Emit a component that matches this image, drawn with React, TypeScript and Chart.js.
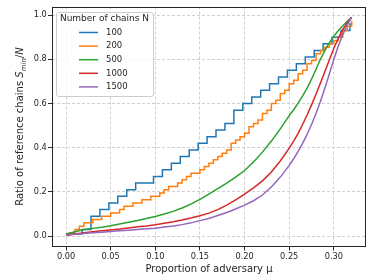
import React, { useEffect, useRef } from "react";
import { Chart, registerables } from "chart.js";

Chart.register(...registerables);

// ---- data ----
const seriesLabels = ["100", "200", "500", "1000", "1500"];
const seriesColors = ["#1f77b4", "#ff7f0e", "#2ca02c", "#d62728", "#9467bd"];

// N = 100 (stepped)
const blueMu = [0, 0.018, 0.028, 0.038, 0.048, 0.058, 0.068, 0.078, 0.098, 0.108, 0.118, 0.128, 0.138, 0.148, 0.158, 0.168, 0.178, 0.188, 0.198, 0.208, 0.218, 0.228, 0.238, 0.248, 0.258, 0.268, 0.278, 0.288, 0.298, 0.308, 0.318, 0.32];
const blueVal = [0.01, 0.03, 0.09, 0.12, 0.15, 0.18, 0.21, 0.24, 0.27, 0.30, 0.33, 0.36, 0.39, 0.42, 0.45, 0.48, 0.51, 0.57, 0.60, 0.63, 0.66, 0.69, 0.72, 0.75, 0.78, 0.81, 0.84, 0.87, 0.90, 0.93, 0.96, 0.96];

// N = 200 (stepped)
const orangeMu = [0, 0.005, 0.01, 0.015, 0.02, 0.03, 0.04, 0.05, 0.06, 0.065, 0.075, 0.085, 0.095, 0.105, 0.11, 0.115, 0.125, 0.13, 0.135, 0.14, 0.15, 0.155, 0.16, 0.165, 0.17, 0.175, 0.18, 0.185, 0.19, 0.195, 0.2, 0.205, 0.21, 0.215, 0.22, 0.225, 0.23, 0.235, 0.24, 0.245, 0.25, 0.255, 0.26, 0.265, 0.27, 0.275, 0.28, 0.285, 0.29, 0.295, 0.3, 0.305, 0.31, 0.315, 0.32];
const orangeVal = [0.005, 0.015, 0.03, 0.045, 0.06, 0.075, 0.09, 0.105, 0.12, 0.135, 0.15, 0.165, 0.18, 0.195, 0.21, 0.225, 0.24, 0.255, 0.27, 0.285, 0.3, 0.315, 0.33, 0.345, 0.36, 0.375, 0.39, 0.42, 0.435, 0.45, 0.465, 0.495, 0.51, 0.525, 0.555, 0.57, 0.6, 0.615, 0.645, 0.66, 0.69, 0.705, 0.735, 0.75, 0.78, 0.795, 0.825, 0.84, 0.855, 0.87, 0.885, 0.9, 0.93, 0.95, 0.975];

// N = 500, 1000, 1500 (near-smooth)
const smoothMu = [0, 0.01, 0.02, 0.03, 0.04, 0.05, 0.06, 0.07, 0.08, 0.09, 0.1, 0.11, 0.12, 0.13, 0.14, 0.15, 0.16, 0.17, 0.18, 0.19, 0.2, 0.21, 0.22, 0.23, 0.24, 0.25, 0.255, 0.26, 0.265, 0.27, 0.275, 0.28, 0.285, 0.29, 0.295, 0.3, 0.305, 0.31, 0.315, 0.32];
const greenVal = [0.01, 0.02, 0.03, 0.035, 0.04, 0.047, 0.055, 0.063, 0.071, 0.08, 0.089, 0.1, 0.112, 0.127, 0.145, 0.166, 0.19, 0.215, 0.24, 0.267, 0.297, 0.335, 0.38, 0.43, 0.485, 0.545, 0.572, 0.602, 0.635, 0.67, 0.71, 0.755, 0.8, 0.84, 0.875, 0.905, 0.93, 0.952, 0.972, 0.99];
const redVal = [0.005, 0.01, 0.015, 0.02, 0.024, 0.028, 0.032, 0.037, 0.042, 0.046, 0.051, 0.058, 0.065, 0.073, 0.082, 0.092, 0.104, 0.12, 0.14, 0.164, 0.19, 0.218, 0.25, 0.29, 0.34, 0.398, 0.43, 0.465, 0.505, 0.548, 0.594, 0.642, 0.693, 0.745, 0.798, 0.85, 0.895, 0.935, 0.966, 0.99];
const purpleVal = [0.005, 0.008, 0.012, 0.015, 0.018, 0.021, 0.024, 0.027, 0.03, 0.033, 0.036, 0.041, 0.046, 0.052, 0.06, 0.07, 0.08, 0.093, 0.107, 0.123, 0.14, 0.16, 0.186, 0.222, 0.267, 0.32, 0.35, 0.383, 0.42, 0.46, 0.505, 0.555, 0.61, 0.67, 0.735, 0.8, 0.86, 0.912, 0.956, 0.99];

const xTicks = [0, 0.05, 0.1, 0.15, 0.2, 0.25, 0.3];
const yTicks = [0, 0.2, 0.4, 0.6, 0.8, 1.0];

const legendTitle = "Number of chains N";
const xTitle = "Proportion of adversary \u03bc";
const yTitleMain = "Ratio of reference chains ";
const yTitleSym = "S";
const yTitleSub = "min";
const yTitleSlash = "/";
const yTitleDen = "N";

const FAM = '"DejaVu Sans", sans-serif';
const TXT = "#262626";

const pts = (xs: number[], ys: number[]) => xs.map((x, i) => ({ x, y: ys[i] }));

const overlay = {
  id: "overlay",
  afterDraw(chart: any) {
    const { ctx, chartArea: a } = chart;
    ctx.save();
    // spines
    ctx.strokeStyle = TXT;
    ctx.lineWidth = 1;
    ctx.strokeRect(Math.round(a.left) + 0.5, Math.round(a.top) + 0.5, Math.round(a.right - a.left) - 1, Math.round(a.bottom - a.top) - 1);

    // legend
    const bx = a.left + 4, by = a.top + 5.5, bw = 97, bh = 84;
    ctx.beginPath();
    (ctx as any).roundRect(bx + 0.5, by + 0.5, bw, bh, 2.5);
    ctx.fillStyle = "rgba(255,255,255,0.8)";
    ctx.fill();
    ctx.strokeStyle = "#cccccc";
    ctx.lineWidth = 1;
    ctx.stroke();
    ctx.fillStyle = TXT;
    ctx.font = `9px ${FAM}`;
    ctx.textAlign = "center";
    ctx.textBaseline = "middle";
    ctx.fillText(legendTitle, bx + bw / 2, by + 7);
    ctx.font = `8.5px ${FAM}`;
    ctx.textAlign = "left";
    chart.data.datasets.forEach((ds: any, i: number) => {
      const y = by + 20.5 + i * 13.6;
      ctx.strokeStyle = ds.borderColor;
      ctx.lineWidth = 1.5;
      ctx.beginPath();
      ctx.moveTo(bx + 23, y);
      ctx.lineTo(bx + 42, y);
      ctx.stroke();
      ctx.fillStyle = TXT;
      ctx.fillText(ds.label, bx + 50, y);
    });

    // x title
    ctx.font = `10px ${FAM}`;
    ctx.textAlign = "center";
    ctx.textBaseline = "middle";
    ctx.fillStyle = TXT;
    ctx.fillText(xTitle, (a.left + a.right) / 2, 269);

    // y title (with math subscript)
    const parts = [
      { t: yTitleMain, f: `10px ${FAM}`, dy: 0 },
      { t: yTitleSym, f: `italic 10px ${FAM}`, dy: 0 },
      { t: yTitleSub, f: `italic 7px ${FAM}`, dy: 2.5 },
      { t: yTitleSlash, f: `10px ${FAM}`, dy: 0 },
      { t: yTitleDen, f: `italic 10px ${FAM}`, dy: 0 },
    ];
    let w = 0;
    const widths = parts.map((p) => {
      ctx.font = p.f;
      const m = ctx.measureText(p.t).width;
      w += m;
      return m;
    });
    ctx.translate(19.5, (a.top + a.bottom) / 2);
    ctx.rotate(-Math.PI / 2);
    ctx.textAlign = "left";
    ctx.textBaseline = "alphabetic";
    let x = -w / 2;
    parts.forEach((p, i) => {
      ctx.font = p.f;
      ctx.fillText(p.t, x, 3.6 + p.dy);
      x += widths[i];
    });
    ctx.restore();
  },
};

export default function App() {
  const ref = useRef<HTMLCanvasElement | null>(null);
  useEffect(() => {
    if (!ref.current) return;
    const mk = (i: number, data: any[], stepped: any, order: number) => ({
      label: seriesLabels[i],
      data,
      borderColor: seriesColors[i],
      backgroundColor: seriesColors[i],
      borderWidth: 1.5,
      pointRadius: 0,
      fill: false,
      stepped,
      order,
    });
    const tickFont = { family: FAM, size: 8.2 };
    const chart = new Chart(ref.current, {
      type: "line",
      data: {
        datasets: [
          mk(0, pts(blueMu, blueVal), "before", 5),
          mk(1, pts(orangeMu, orangeVal), "before", 4),
          mk(2, pts(smoothMu, greenVal), false, 3),
          mk(3, pts(smoothMu, redVal), false, 2),
          mk(4, pts(smoothMu, purpleVal), false, 1),
        ],
      },
      options: {
        animation: false,
        responsive: false,
        devicePixelRatio: 1,
        layout: { padding: { top: 6.5, right: 1, left: 0, bottom: 0 } },
        plugins: { legend: { display: false }, tooltip: { enabled: false }, title: { display: false } },
        scales: {
          x: {
            type: "linear",
            min: -0.0157,
            max: 0.336,
            afterBuildTicks: (s: any) => {
              s.ticks = xTicks.map((v) => ({ value: v }));
            },
            afterFit: (s: any) => {
              s.height = 33.5;
            },
            ticks: {
              callback: (v: any) => Number(v).toFixed(2),
              font: tickFont,
              color: TXT,
              padding: 1.5,
              maxRotation: 0,
              autoSkip: false,
            },
            grid: {
              color: "#c4c4c4",
              lineWidth: 0.8,
              tickColor: TXT,
              tickLength: 4,
              tickWidth: 1,
              tickBorderDash: [],
            },
            border: { display: false, dash: [3, 2] },
          },
          y: {
            type: "linear",
            min: -0.047,
            max: 1.039,
            afterBuildTicks: (s: any) => {
              s.ticks = yTicks.map((v) => ({ value: v }));
            },
            afterFit: (s: any) => {
              s.width = 52;
            },
            ticks: {
              callback: (v: any) => Number(v).toFixed(1),
              font: tickFont,
              color: TXT,
              padding: 1.3,
              autoSkip: false,
            },
            grid: {
              color: "#c4c4c4",
              lineWidth: 0.8,
              tickColor: TXT,
              tickLength: 4,
              tickWidth: 1,
              tickBorderDash: [],
            },
            border: { display: false, dash: [3, 2] },
          },
        },
      } as any,
      plugins: [overlay],
    });
    return () => chart.destroy();
  }, []);
  return (
    <div style={{ position: "absolute", left: 0, top: 0, width: 367, height: 280, background: "#fff" }}>
      <canvas ref={ref} width={367} height={280} style={{ display: "block" }} />
    </div>
  );
}
